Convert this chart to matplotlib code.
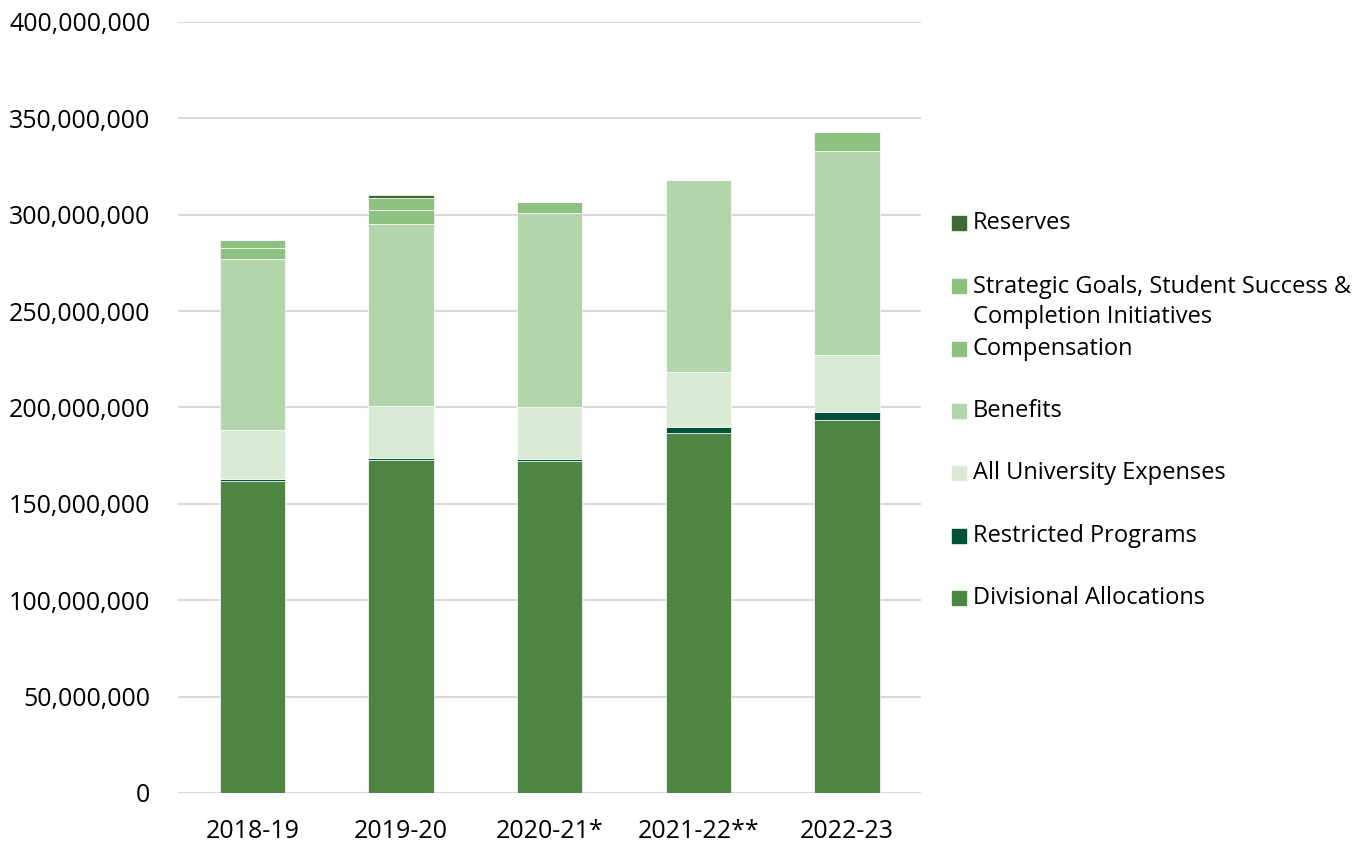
import numpy as np
import matplotlib
matplotlib.use("Agg")
import matplotlib.pyplot as plt
from matplotlib.ticker import FuncFormatter
from matplotlib.patches import Rectangle

plt.rcParams['font.family'] = ['Open Sans', 'DejaVu Sans']

years = ["2018-19", "2019-20", "2020-21*", "2021-22**", "2022-23"]

# budget components in millions, bottom of the stack first
divisional = [161.9, 172.9, 172.2, 186.6, 193.4]
restricted = [1.0, 0.9, 0.9, 3.1, 4.1]
all_university = [25.4, 27.0, 27.3, 28.6, 29.7]
benefits = [88.7, 94.6, 100.5, 99.7, 106.0]
compensation = [5.6, 6.9, 0.0, 0.0, 0.0]
strategic = [4.3, 6.5, 5.9, 0.0, 9.7]
reserves = [0.0, 1.5, 0.0, 0.0, 0.0]

series = [
    ("Divisional Allocations", divisional, "#4E8542"),
    ("Restricted Programs", restricted, "#00503A"),
    ("All University Expenses", all_university, "#DAEBD5"),
    ("Benefits", benefits, "#B3D5AB"),
    ("Compensation", compensation, "#8DC181"),
    ("Strategic Goals, Student Success &\nCompletion Initiatives", strategic, "#8DC181"),
    ("Reserves", reserves, "#3F6A35"),
]

fig = plt.figure(figsize=(13.59, 8.46), dpi=100)
ax = fig.add_axes([0.131, 0.0627, 0.547, 0.9113])

x = np.arange(len(years))
bottom = np.zeros(len(years))
for name, vals, col in series:
    v = np.array(vals) * 1e6
    ax.bar(x, v, width=0.44, bottom=bottom, color=col,
           edgecolor="#ffffff", linewidth=0.5, zorder=3)
    bottom += v

ax.set_xlim(-0.5, len(years) - 0.5)
ax.set_ylim(0, 400e6)
ax.set_yticks(np.arange(0, 400e6 + 1, 50e6))
ax.yaxis.set_major_formatter(FuncFormatter(lambda v, p: f"{v:,.0f}"))
ax.set_xticks(x)
ax.set_xticklabels(years)
ax.grid(axis="y", color="#D9D9D9", linewidth=1.5, zorder=0)
for s in ax.spines.values():
    s.set_visible(False)
ax.tick_params(axis="both", length=0, labelsize=18, colors="#000000")
ax.tick_params(axis="y", pad=20)
ax.tick_params(axis="x", pad=19)

# legend on the right, top entry is the last series
W, H = 1359, 846
leg_rows = [
    ("Reserves", 223),
    ("Strategic Goals, Student Success &\nCompletion Initiatives", 286),
    ("Compensation", 349),
    ("Benefits", 411),
    ("All University Expenses", 473),
    ("Restricted Programs", 536),
    ("Divisional Allocations", 598),
]
colors = {name: col for name, _, col in series}
for name, ypix in leg_rows:
    fig.patches.append(Rectangle((952 / W, 1 - (ypix + 7) / H), 14 / W, 14 / H,
                                 transform=fig.transFigure, color=colors[name]))
    n_lines = name.count("\n") + 1
    yc = ypix + (n_lines - 1) * 16
    fig.text(973 / W, 1 - yc / H, name, fontsize=17, va="center",
             ha="left", linespacing=1.33)

fig.savefig("out.png", dpi=100)
